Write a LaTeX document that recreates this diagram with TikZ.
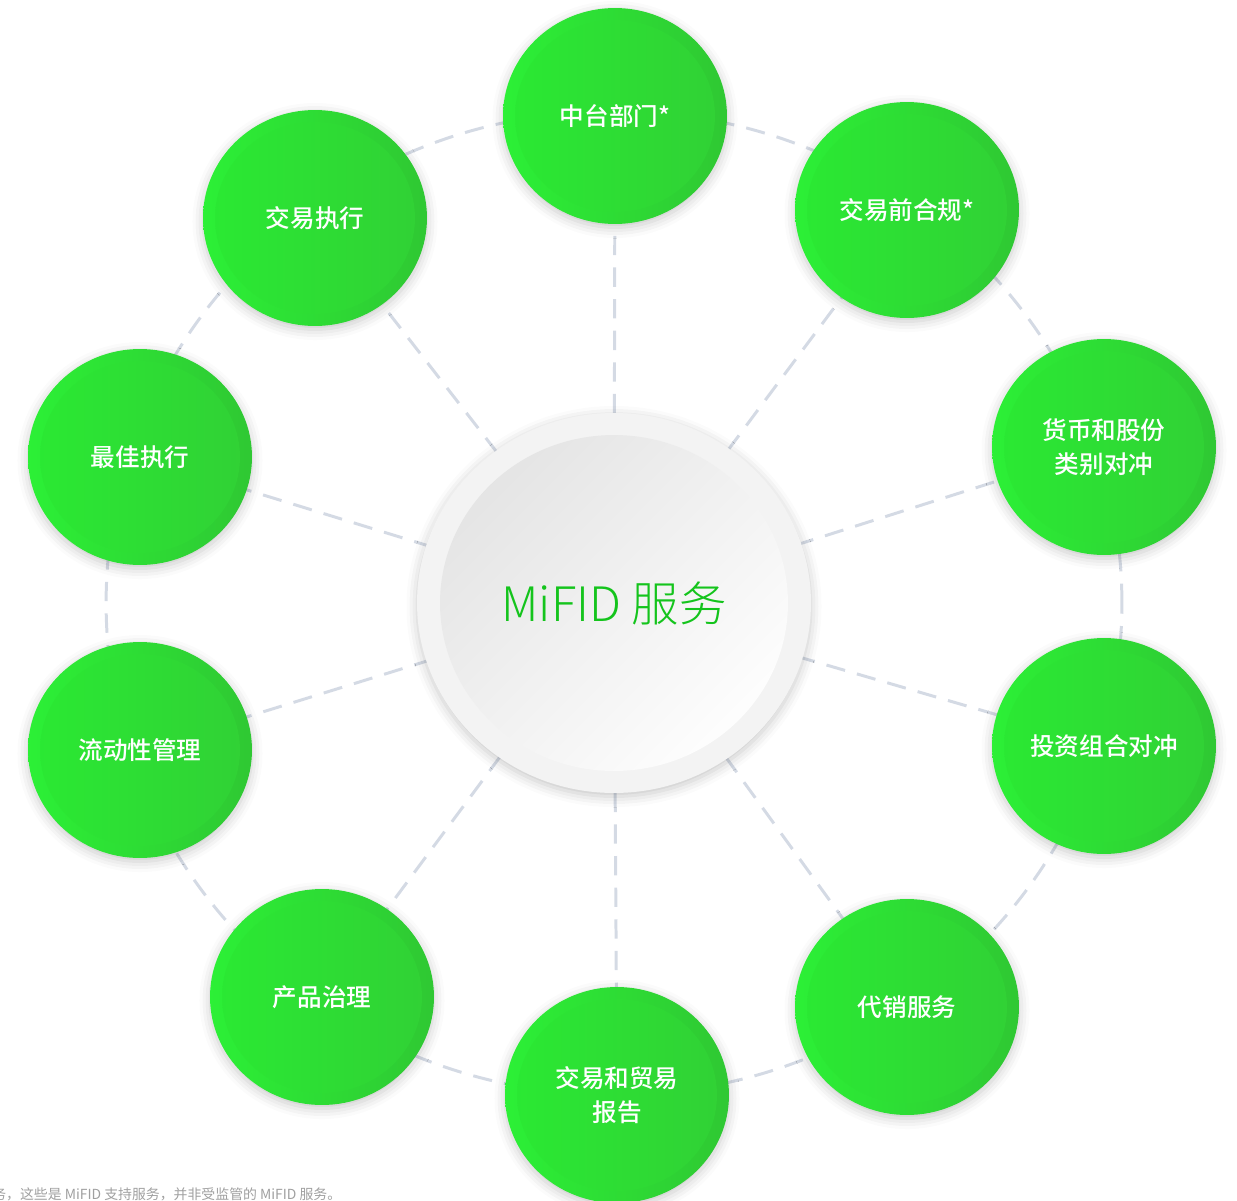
\documentclass[tikz,border=0pt]{standalone}
\usepackage{fontspec}
\setmainfont{Noto Sans CJK SC}
\newfontfamily\cjkmed{Noto Sans CJK SC Medium}
\newfontfamily\cjklight{Noto Sans CJK SC Light}
\usetikzlibrary{shapes.geometric,backgrounds,shadows.blur}
\definecolor{greenL}{HTML}{2CF036}
\definecolor{greenR}{HTML}{2FC833}
\definecolor{greenIL}{HTML}{2AEA33}
\definecolor{greenIR}{HTML}{31D035}
\definecolor{linkgray}{HTML}{D4DAE4}
\definecolor{hubgreen}{HTML}{14C41C}
\definecolor{hubring}{HTML}{F3F3F3}
\definecolor{notegray}{HTML}{A0A0A0}
\tikzset{
  softshadow/.style={blur shadow={shadow xshift=0pt, shadow yshift=-2pt, shadow blur radius=6pt, shadow opacity=22}},
  svc/.style={ellipse, minimum width=4.48cm, minimum height=4.32cm, inner sep=0pt,
    left color=greenL, right color=greenR, text=white, align=center,
    font=\cjkmed\fontsize{14pt}{19pt}\selectfont, softshadow,
    path picture={\shade[left color=greenIL, right color=greenIR]
      (path picture bounding box.center) ellipse [x radius=2cm, y radius=1.92cm];}},
  hub/.style={ellipse, minimum width=7.88cm, minimum height=7.6cm, inner sep=0pt,
    fill=hubring, text=hubgreen, font=\cjklight\fontsize{27pt}{30pt}\selectfont, softshadow,
    path picture={\shade[top color=black!11, bottom color=white, shading angle=45]
      (path picture bounding box.center) ellipse [x radius=3.48cm, y radius=3.36cm];}},
  link/.style={draw=linkgray, line width=1.7pt, dash pattern=on 11pt off 7pt},
  note/.style={text=notegray, font=\fontsize{7.9pt}{9pt}\selectfont, inner sep=0pt}
}
\begin{document}
\begin{tikzpicture}[x=0.02cm, y=-0.02cm]
  \useasboundingbox (0,0) rectangle (1237,1200);
  % hub and the ten services round it
  \node[hub] (hub) at (614,603) {MiFID 服务};
  \node[svc] (mid) at (615,116) {中台部门*};
  \node[svc] (precomp) at (907,210) {交易前合规*};
  \node[svc] (ccyhedge) at (1104,447) {货币和股份\\类别对冲};
  \node[svc] (porthedge) at (1104,746) {投资组合对冲};
  \node[svc] (distrib) at (907,1007) {代销服务};
  \node[svc] (report) at (617,1095) {交易和贸易\\报告};
  \node[svc] (prodgov) at (322,997) {产品治理};
  \node[svc] (liquid) at (140,750) {流动性管理};
  \node[svc] (bestex) at (140,457) {最佳执行};
  \node[svc] (tradeex) at (315,218) {交易执行};
  \node[note, anchor=base west] (note) at (-8,1199) {务，这些是 MiFID 支持服务，并非受监管的 MiFID 服务。};
  % dashed orbit and spokes
  \begin{pgfonlayer}{background}
    \draw[link] (hub.center) ellipse [x radius=10.16cm, y radius=9.84cm];
    \foreach \n in {mid,precomp,ccyhedge,porthedge,distrib,report,prodgov,liquid,bestex,tradeex}
      \draw[link] (hub.center) -- (\n.center);
  \end{pgfonlayer}
\end{tikzpicture}
\end{document}
